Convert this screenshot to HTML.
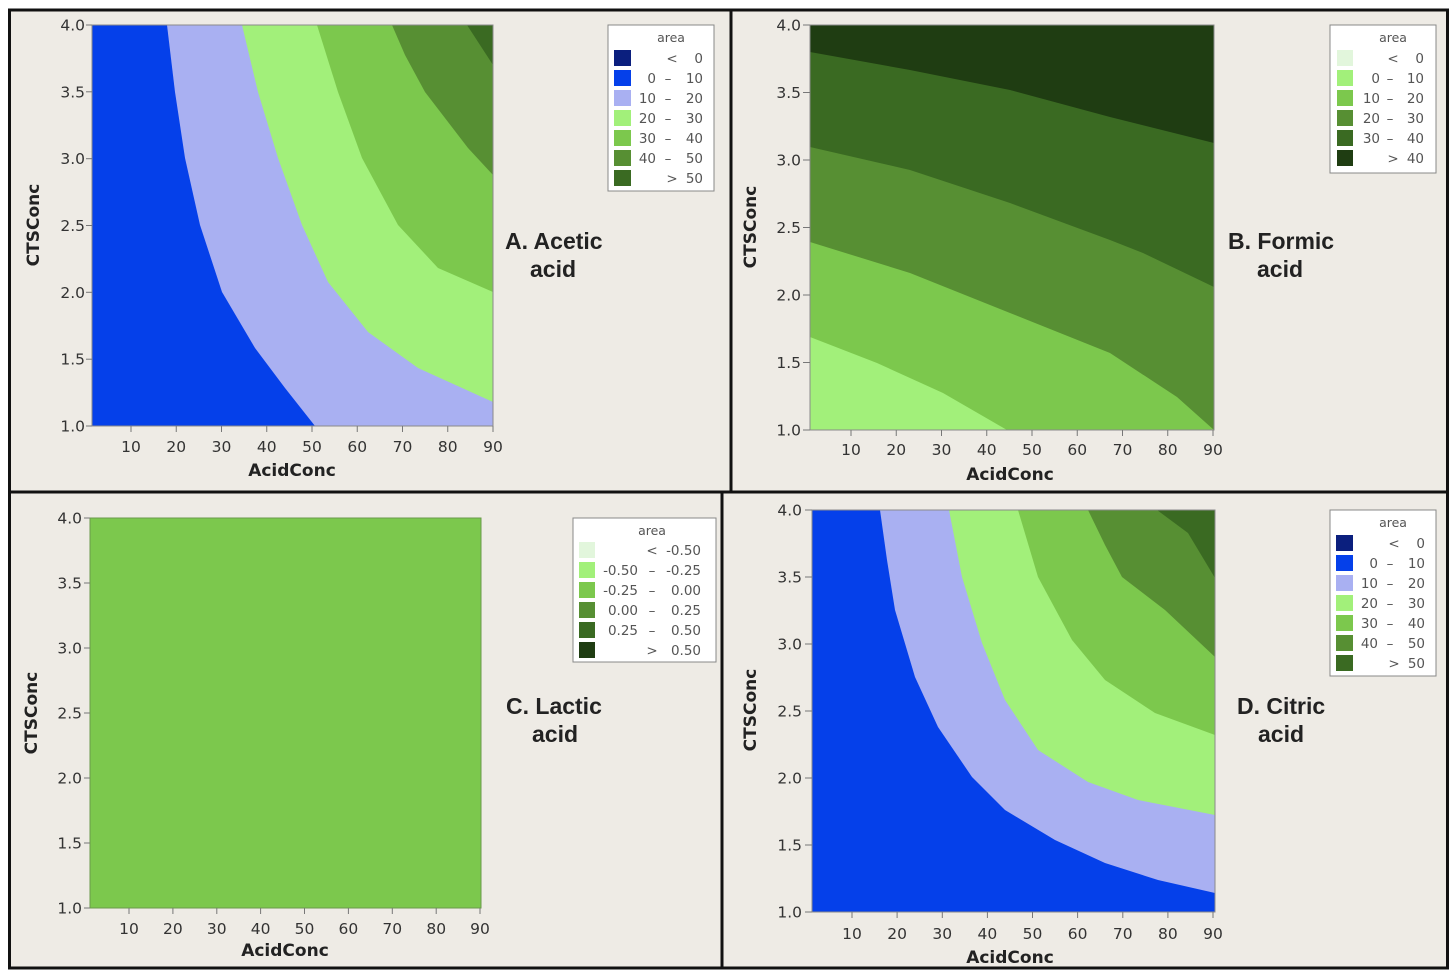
<!DOCTYPE html>
<html><head><meta charset="utf-8"><style>
html,body{margin:0;padding:0;background:#fff;}
svg{display:block;}
.t{font-family:"DejaVu Sans","Liberation Sans",sans-serif;font-size:15.5px;fill:#333;}
.ti{font-family:"DejaVu Sans","Liberation Sans",sans-serif;font-size:17px;font-weight:bold;fill:#222;}
.lg{font-family:"DejaVu Sans","Liberation Sans",sans-serif;font-size:13.5px;fill:#555;}
.la{font-family:"DejaVu Sans","Liberation Sans",sans-serif;font-size:12.5px;fill:#555;}
.pl{font-family:"Liberation Sans",Arial,sans-serif;font-size:23px;font-weight:bold;fill:#222;}
</style></head><body>
<svg width="1456" height="980" viewBox="0 0 1456 980" xmlns="http://www.w3.org/2000/svg">
<rect x="0" y="0" width="1456" height="980" fill="#fff"/>
<rect x="9.5" y="10" width="1438" height="958" fill="#eeebe5" stroke="#111" stroke-width="3"/>
<line x1="9" y1="492" x2="1448" y2="492" stroke="#111" stroke-width="3"/>
<line x1="731" y1="10" x2="731" y2="492" stroke="#111" stroke-width="3"/>
<line x1="722" y1="492" x2="722" y2="968" stroke="#111" stroke-width="3"/>

<!-- ===== Panel A ===== -->
<g>
<rect x="92" y="25" width="401" height="401" fill="#0540ea"/>
<polygon fill="#a9b0f2" points="167,25 175,92 185,158 200,225 222,292 255,348 285,388 315,426 493,426 493,25"/>
<polygon fill="#a2f07a" points="242,25 258,92 278,158 302,225 328,282 368,332 418,368 493,402 493,25"/>
<polygon fill="#7cc84d" points="317,25 338,92 362,158 398,225 438,268 493,292 493,25"/>
<polygon fill="#578f33" points="392,25 405,55 425,92 468,148 493,175 493,25"/>
<polygon fill="#3a6a22" points="467,25 480,45 493,65 493,25"/>
<rect x="92" y="25" width="401" height="401" fill="none" stroke="#8a8a8a" stroke-width="1"/>
<g stroke="#777" stroke-width="1">
<line x1="86" y1="25" x2="92" y2="25"/><line x1="86" y1="91.8" x2="92" y2="91.8"/><line x1="86" y1="158.7" x2="92" y2="158.7"/><line x1="86" y1="225.5" x2="92" y2="225.5"/><line x1="86" y1="292.3" x2="92" y2="292.3"/><line x1="86" y1="359.2" x2="92" y2="359.2"/><line x1="86" y1="426" x2="92" y2="426"/>
<line x1="131" y1="426" x2="131" y2="432"/><line x1="176.25" y1="426" x2="176.25" y2="432"/><line x1="221.5" y1="426" x2="221.5" y2="432"/><line x1="266.75" y1="426" x2="266.75" y2="432"/><line x1="312" y1="426" x2="312" y2="432"/><line x1="357.25" y1="426" x2="357.25" y2="432"/><line x1="402.5" y1="426" x2="402.5" y2="432"/><line x1="447.75" y1="426" x2="447.75" y2="432"/><line x1="493" y1="426" x2="493" y2="432"/>
</g>
<g class="t" text-anchor="end">
<text x="85" y="30.5">4.0</text><text x="85" y="97.3">3.5</text><text x="85" y="164.2">3.0</text><text x="85" y="231">2.5</text><text x="85" y="297.8">2.0</text><text x="85" y="364.7">1.5</text><text x="85" y="431.5">1.0</text>
</g>
<g class="t" text-anchor="middle">
<text x="131" y="452">10</text><text x="176.25" y="452">20</text><text x="221.5" y="452">30</text><text x="266.75" y="452">40</text><text x="312" y="452">50</text><text x="357.25" y="452">60</text><text x="402.5" y="452">70</text><text x="447.75" y="452">80</text><text x="493" y="452">90</text>
</g>
<text class="ti" x="292" y="476" text-anchor="middle">AcidConc</text>
<text class="ti" transform="translate(39,225) rotate(-90)" text-anchor="middle">CTSConc</text>
<!-- legend A -->
<rect x="608" y="25" width="106" height="166" fill="#fff" stroke="#888" stroke-width="1"/>
<text class="la" x="671" y="42" text-anchor="middle">area</text>
<rect x="614" y="50" width="17" height="16" fill="#0b1f7e"/>
<rect x="614" y="70" width="17" height="16" fill="#0540ea"/>
<rect x="614" y="90" width="17" height="16" fill="#a9b0f2"/>
<rect x="614" y="110" width="17" height="16" fill="#a2f07a"/>
<rect x="614" y="130" width="17" height="16" fill="#7cc84d"/>
<rect x="614" y="150" width="17" height="16" fill="#578f33"/>
<rect x="614" y="170" width="17" height="16" fill="#3a6a22"/>
<g class="lg">
<text x="672" y="63" text-anchor="middle">&lt;</text><text x="703" y="63" text-anchor="end">0</text>
<text x="656" y="83" text-anchor="end">0</text><text x="668" y="83" text-anchor="middle">–</text><text x="703" y="83" text-anchor="end">10</text>
<text x="656" y="103" text-anchor="end">10</text><text x="668" y="103" text-anchor="middle">–</text><text x="703" y="103" text-anchor="end">20</text>
<text x="656" y="123" text-anchor="end">20</text><text x="668" y="123" text-anchor="middle">–</text><text x="703" y="123" text-anchor="end">30</text>
<text x="656" y="143" text-anchor="end">30</text><text x="668" y="143" text-anchor="middle">–</text><text x="703" y="143" text-anchor="end">40</text>
<text x="656" y="163" text-anchor="end">40</text><text x="668" y="163" text-anchor="middle">–</text><text x="703" y="163" text-anchor="end">50</text>
<text x="672" y="183" text-anchor="middle">&gt;</text><text x="703" y="183" text-anchor="end">50</text>
</g>
<text class="pl" x="505" y="249">A. Acetic</text>
<text class="pl" x="530" y="277">acid</text>
</g>

<!-- ===== Panel B ===== -->
<g>
<rect x="810" y="25" width="404" height="405" fill="#a2f07a"/>
<polygon fill="#7cc84d" points="810,337 877,363 943,393 1007,430 1214,430 1214,25 810,25"/>
<polygon fill="#578f33" points="810,242 910,273 1010,313 1110,353 1177,397 1214,430 1214,25 810,25"/>
<polygon fill="#3a6a22" points="810,147 910,170 1010,203 1110,240 1143,253 1214,287 1214,25 810,25"/>
<polygon fill="#1f3d12" points="810,52 910,70 1010,90 1110,117 1214,143 1214,25 810,25"/>
<rect x="810" y="25" width="404" height="405" fill="none" stroke="#8a8a8a" stroke-width="1"/>
<g stroke="#777" stroke-width="1">
<line x1="803" y1="25" x2="810" y2="25"/><line x1="803" y1="92.5" x2="810" y2="92.5"/><line x1="803" y1="160" x2="810" y2="160"/><line x1="803" y1="227.5" x2="810" y2="227.5"/><line x1="803" y1="295" x2="810" y2="295"/><line x1="803" y1="362.5" x2="810" y2="362.5"/><line x1="803" y1="430" x2="810" y2="430"/>
<line x1="851" y1="430" x2="851" y2="436"/><line x1="896.25" y1="430" x2="896.25" y2="436"/><line x1="941.5" y1="430" x2="941.5" y2="436"/><line x1="986.75" y1="430" x2="986.75" y2="436"/><line x1="1032" y1="430" x2="1032" y2="436"/><line x1="1077.25" y1="430" x2="1077.25" y2="436"/><line x1="1122.5" y1="430" x2="1122.5" y2="436"/><line x1="1167.75" y1="430" x2="1167.75" y2="436"/><line x1="1213" y1="430" x2="1213" y2="436"/>
</g>
<g class="t" text-anchor="end">
<text x="801" y="30.5">4.0</text><text x="801" y="98">3.5</text><text x="801" y="165.5">3.0</text><text x="801" y="233">2.5</text><text x="801" y="300.5">2.0</text><text x="801" y="368">1.5</text><text x="801" y="435.5">1.0</text>
</g>
<g class="t" text-anchor="middle">
<text x="851" y="455">10</text><text x="896.25" y="455">20</text><text x="941.5" y="455">30</text><text x="986.75" y="455">40</text><text x="1032" y="455">50</text><text x="1077.25" y="455">60</text><text x="1122.5" y="455">70</text><text x="1167.75" y="455">80</text><text x="1213" y="455">90</text>
</g>
<text class="ti" x="1010" y="480" text-anchor="middle">AcidConc</text>
<text class="ti" transform="translate(756,227) rotate(-90)" text-anchor="middle">CTSConc</text>
<!-- legend B -->
<rect x="1330" y="25" width="106" height="148" fill="#fff" stroke="#888" stroke-width="1"/>
<text class="la" x="1393" y="42" text-anchor="middle">area</text>
<rect x="1337" y="50" width="16" height="16" fill="#e2f6dc"/>
<rect x="1337" y="70" width="16" height="16" fill="#a2f07a"/>
<rect x="1337" y="90" width="16" height="16" fill="#7cc84d"/>
<rect x="1337" y="110" width="16" height="16" fill="#578f33"/>
<rect x="1337" y="130" width="16" height="16" fill="#3a6a22"/>
<rect x="1337" y="150" width="16" height="16" fill="#1f3d12"/>
<g class="lg">
<text x="1393" y="63" text-anchor="middle">&lt;</text><text x="1424" y="63" text-anchor="end">0</text>
<text x="1380" y="83" text-anchor="end">0</text><text x="1390" y="83" text-anchor="middle">–</text><text x="1424" y="83" text-anchor="end">10</text>
<text x="1380" y="103" text-anchor="end">10</text><text x="1390" y="103" text-anchor="middle">–</text><text x="1424" y="103" text-anchor="end">20</text>
<text x="1380" y="123" text-anchor="end">20</text><text x="1390" y="123" text-anchor="middle">–</text><text x="1424" y="123" text-anchor="end">30</text>
<text x="1380" y="143" text-anchor="end">30</text><text x="1390" y="143" text-anchor="middle">–</text><text x="1424" y="143" text-anchor="end">40</text>
<text x="1393" y="163" text-anchor="middle">&gt;</text><text x="1424" y="163" text-anchor="end">40</text>
</g>
<text class="pl" x="1228" y="249">B. Formic</text>
<text class="pl" x="1257" y="277">acid</text>
</g>

<!-- ===== Panel C ===== -->
<g>
<rect x="90" y="518" width="391" height="390" fill="#7cc84d" stroke="#6a9a4a" stroke-width="1"/>
<g stroke="#777" stroke-width="1">
<line x1="84" y1="518" x2="90" y2="518"/><line x1="84" y1="583" x2="90" y2="583"/><line x1="84" y1="648" x2="90" y2="648"/><line x1="84" y1="713" x2="90" y2="713"/><line x1="84" y1="778" x2="90" y2="778"/><line x1="84" y1="843" x2="90" y2="843"/><line x1="84" y1="908" x2="90" y2="908"/>
<line x1="129" y1="908" x2="129" y2="914"/><line x1="172.9" y1="908" x2="172.9" y2="914"/><line x1="216.8" y1="908" x2="216.8" y2="914"/><line x1="260.6" y1="908" x2="260.6" y2="914"/><line x1="304.5" y1="908" x2="304.5" y2="914"/><line x1="348.4" y1="908" x2="348.4" y2="914"/><line x1="392.3" y1="908" x2="392.3" y2="914"/><line x1="436.2" y1="908" x2="436.2" y2="914"/><line x1="480" y1="908" x2="480" y2="914"/>
</g>
<g class="t" text-anchor="end">
<text x="82" y="523.5">4.0</text><text x="82" y="588.5">3.5</text><text x="82" y="653.5">3.0</text><text x="82" y="718.5">2.5</text><text x="82" y="783.5">2.0</text><text x="82" y="848.5">1.5</text><text x="82" y="913.5">1.0</text>
</g>
<g class="t" text-anchor="middle">
<text x="129" y="934">10</text><text x="172.9" y="934">20</text><text x="216.8" y="934">30</text><text x="260.6" y="934">40</text><text x="304.5" y="934">50</text><text x="348.4" y="934">60</text><text x="392.3" y="934">70</text><text x="436.2" y="934">80</text><text x="480" y="934">90</text>
</g>
<text class="ti" x="285" y="956" text-anchor="middle">AcidConc</text>
<text class="ti" transform="translate(37,713) rotate(-90)" text-anchor="middle">CTSConc</text>
<!-- legend C -->
<rect x="573" y="518" width="143" height="144" fill="#fff" stroke="#888" stroke-width="1"/>
<text class="la" x="652" y="535" text-anchor="middle">area</text>
<rect x="579" y="542" width="16" height="16" fill="#e2f6dc"/>
<rect x="579" y="562" width="16" height="16" fill="#a2f07a"/>
<rect x="579" y="582" width="16" height="16" fill="#7cc84d"/>
<rect x="579" y="602" width="16" height="16" fill="#578f33"/>
<rect x="579" y="622" width="16" height="16" fill="#3a6a22"/>
<rect x="579" y="642" width="16" height="16" fill="#1f3d12"/>
<g class="lg">
<text x="652" y="555" text-anchor="middle">&lt;</text><text x="701" y="555" text-anchor="end">-0.50</text>
<text x="638" y="575" text-anchor="end">-0.50</text><text x="652" y="575" text-anchor="middle">–</text><text x="701" y="575" text-anchor="end">-0.25</text>
<text x="638" y="595" text-anchor="end">-0.25</text><text x="652" y="595" text-anchor="middle">–</text><text x="701" y="595" text-anchor="end">0.00</text>
<text x="638" y="615" text-anchor="end">0.00</text><text x="652" y="615" text-anchor="middle">–</text><text x="701" y="615" text-anchor="end">0.25</text>
<text x="638" y="635" text-anchor="end">0.25</text><text x="652" y="635" text-anchor="middle">–</text><text x="701" y="635" text-anchor="end">0.50</text>
<text x="652" y="655" text-anchor="middle">&gt;</text><text x="701" y="655" text-anchor="end">0.50</text>
</g>
<text class="pl" x="506" y="714">C. Lactic</text>
<text class="pl" x="532" y="742">acid</text>
</g>

<!-- ===== Panel D ===== -->
<g>
<rect x="812" y="510" width="403" height="402" fill="#0540ea"/>
<polygon fill="#a9b0f2" points="880,510 887,560 895,610 915,677 938,727 972,777 1005,810 1055,840 1105,863 1158,880 1215,893 1215,510"/>
<polygon fill="#a2f07a" points="949,510 962,577 982,643 1005,700 1038,750 1088,782 1138,800 1215,815 1215,510"/>
<polygon fill="#7cc84d" points="1018,510 1038,577 1072,640 1105,680 1155,713 1215,735 1215,510"/>
<polygon fill="#578f33" points="1088,510 1105,545 1122,577 1165,610 1215,657 1215,510"/>
<polygon fill="#3a6a22" points="1157,510 1188,533 1215,578 1215,510"/>
<rect x="812" y="510" width="403" height="402" fill="none" stroke="#8a8a8a" stroke-width="1"/>
<g stroke="#777" stroke-width="1">
<line x1="805" y1="510" x2="812" y2="510"/><line x1="805" y1="577" x2="812" y2="577"/><line x1="805" y1="644" x2="812" y2="644"/><line x1="805" y1="711" x2="812" y2="711"/><line x1="805" y1="778" x2="812" y2="778"/><line x1="805" y1="845" x2="812" y2="845"/><line x1="805" y1="912" x2="812" y2="912"/>
<line x1="852" y1="912" x2="852" y2="918"/><line x1="897.1" y1="912" x2="897.1" y2="918"/><line x1="942.3" y1="912" x2="942.3" y2="918"/><line x1="987.4" y1="912" x2="987.4" y2="918"/><line x1="1032.5" y1="912" x2="1032.5" y2="918"/><line x1="1077.6" y1="912" x2="1077.6" y2="918"/><line x1="1122.8" y1="912" x2="1122.8" y2="918"/><line x1="1167.9" y1="912" x2="1167.9" y2="918"/><line x1="1213" y1="912" x2="1213" y2="918"/>
</g>
<g class="t" text-anchor="end">
<text x="802" y="515.5">4.0</text><text x="802" y="582.5">3.5</text><text x="802" y="649.5">3.0</text><text x="802" y="716.5">2.5</text><text x="802" y="783.5">2.0</text><text x="802" y="850.5">1.5</text><text x="802" y="917.5">1.0</text>
</g>
<g class="t" text-anchor="middle">
<text x="852" y="939">10</text><text x="897.1" y="939">20</text><text x="942.3" y="939">30</text><text x="987.4" y="939">40</text><text x="1032.5" y="939">50</text><text x="1077.6" y="939">60</text><text x="1122.8" y="939">70</text><text x="1167.9" y="939">80</text><text x="1213" y="939">90</text>
</g>
<text class="ti" x="1010" y="963" text-anchor="middle">AcidConc</text>
<text class="ti" transform="translate(756,710) rotate(-90)" text-anchor="middle">CTSConc</text>
<!-- legend D -->
<rect x="1330" y="510" width="106" height="166" fill="#fff" stroke="#888" stroke-width="1"/>
<text class="la" x="1393" y="527" text-anchor="middle">area</text>
<rect x="1336" y="535" width="17" height="16" fill="#0b1f7e"/>
<rect x="1336" y="555" width="17" height="16" fill="#0540ea"/>
<rect x="1336" y="575" width="17" height="16" fill="#a9b0f2"/>
<rect x="1336" y="595" width="17" height="16" fill="#a2f07a"/>
<rect x="1336" y="615" width="17" height="16" fill="#7cc84d"/>
<rect x="1336" y="635" width="17" height="16" fill="#578f33"/>
<rect x="1336" y="655" width="17" height="16" fill="#3a6a22"/>
<g class="lg">
<text x="1394" y="548" text-anchor="middle">&lt;</text><text x="1425" y="548" text-anchor="end">0</text>
<text x="1378" y="568" text-anchor="end">0</text><text x="1390" y="568" text-anchor="middle">–</text><text x="1425" y="568" text-anchor="end">10</text>
<text x="1378" y="588" text-anchor="end">10</text><text x="1390" y="588" text-anchor="middle">–</text><text x="1425" y="588" text-anchor="end">20</text>
<text x="1378" y="608" text-anchor="end">20</text><text x="1390" y="608" text-anchor="middle">–</text><text x="1425" y="608" text-anchor="end">30</text>
<text x="1378" y="628" text-anchor="end">30</text><text x="1390" y="628" text-anchor="middle">–</text><text x="1425" y="628" text-anchor="end">40</text>
<text x="1378" y="648" text-anchor="end">40</text><text x="1390" y="648" text-anchor="middle">–</text><text x="1425" y="648" text-anchor="end">50</text>
<text x="1394" y="668" text-anchor="middle">&gt;</text><text x="1425" y="668" text-anchor="end">50</text>
</g>
<text class="pl" x="1237" y="714">D. Citric</text>
<text class="pl" x="1258" y="742">acid</text>
</g>
</svg>
</body></html>
